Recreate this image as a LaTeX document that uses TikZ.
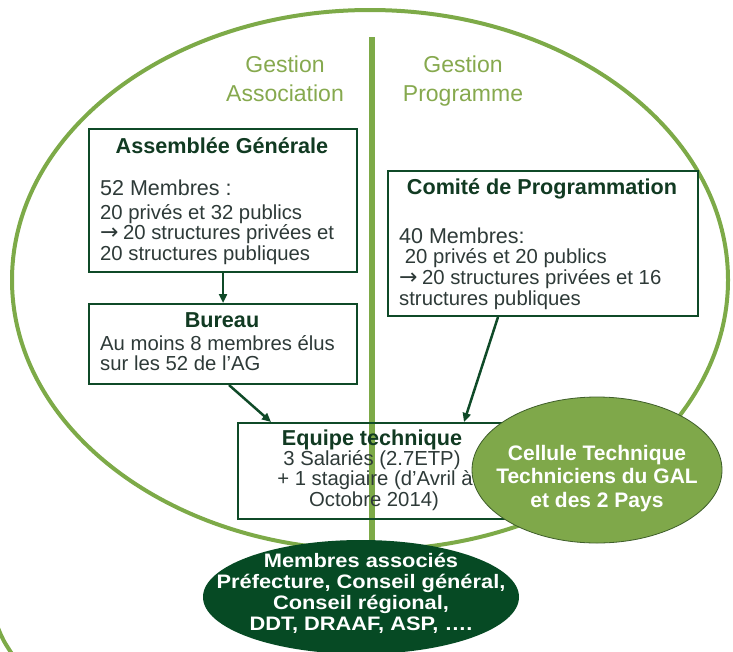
\documentclass[tikz,border=0pt]{standalone}
\usepackage{fontspec}
\setmainfont{Liberation Sans}
\newfontfamily\membfont[FakeStretch=1.12]{Liberation Sans}
\newfontfamily\arrfont{DejaVu Sans}
\newcommand{\myarrow}{{\arrfont\fontsize{22}{22}\selectfont →}}
\usetikzlibrary{arrows.meta,shapes.geometric}
\definecolor{biggreen}{HTML}{7DAA48}
\definecolor{labgreen}{HTML}{86A94E}
\definecolor{boxgreen}{HTML}{0F4A28}
\definecolor{titlecol}{HTML}{113A22}
\definecolor{bodycol}{HTML}{2E3A38}
\definecolor{celfill}{HTML}{7FA84A}
\definecolor{celdraw}{HTML}{3E5E2A}
\definecolor{membfill}{HTML}{064A24}
\tikzset{
  boxnode/.style={draw=boxgreen, line width=2pt, fill=white, inner sep=0pt, anchor=north west},
  ttl/.style={font=\fontsize{21.6}{24}\selectfont\bfseries, text=titlecol, anchor=base, inner sep=0pt},
  big/.style={font=\fontsize{21.5}{24}\selectfont, text=bodycol, anchor=base west, inner sep=0pt},
  body/.style={font=\fontsize{20.3}{22}\selectfont, text=bodycol, anchor=base west, inner sep=0pt},
  bodyc/.style={font=\fontsize{20.3}{22}\selectfont, text=bodycol, anchor=base, inner sep=0pt},
  gest/.style={font=\fontsize{23}{29}\selectfont, text=labgreen, align=center, anchor=north, inner sep=0pt},
  celtxt/.style={font=\fontsize{21}{24}\selectfont\bfseries, text=white, anchor=base, inner sep=0pt},
  memtxt/.style={font=\membfont\fontsize{19.5}{21}\selectfont\bfseries, text=white, anchor=base, inner sep=0pt},
  arr/.style={draw=boxgreen, line width=2.5pt, -{Triangle[length=9pt,width=8pt]}}
}
\begin{document}
\begin{tikzpicture}[x=1pt,y=1pt]
\useasboundingbox (0,0) rectangle (733,-651);
% big ellipse
\node[ellipse, draw=biggreen, line width=4pt, minimum width=716pt, minimum height=540pt, inner sep=0pt] (bigell) at (370,-280) {};
% small arc bottom-left
\coordinate (arcA) at (-2,-628);
\coordinate (arcB) at (12,-654);
\draw[biggreen, line width=4pt] (arcA) .. controls (3,-640) .. (arcB);
% divider
\coordinate (vtop) at (372,-37);
\coordinate (vbot) at (372,-560);
\draw[biggreen, line width=6.5pt] (vtop) -- (vbot);
% labels
\node[gest] (gA) at (285,-56) {Gestion\\Association};
\node[gest] (gP) at (463,-56) {Gestion\\Programme};
% Assemblee generale
\node[boxnode, minimum width=268pt, minimum height=143pt] (ag) at (88,-128) {};
\node[ttl] (agT) at (222,-153) {Assemblée Générale};
\node[big] (ag1) at (100,-195) {52 Membres :};
\node[body] (ag2) at (100,-219) {20 privés et 32 publics};
\node[body] (ag3) at (100,-239) {\myarrow\kern4.5pt 20 structures privées et};
\node[body] (ag4) at (100,-260) {20 structures publiques};
% Bureau
\node[boxnode, minimum width=268pt, minimum height=80pt] (bur) at (88,-303) {};
\node[ttl] (burT) at (222,-327) {Bureau};
\node[body] (bur1) at (100,-350) {Au moins 8 membres élus};
\node[body] (bur2) at (100,-370) {sur les 52 de l’AG};
% Comite
\node[boxnode, minimum width=310pt, minimum height=145pt] (com) at (387,-170) {};
\node[ttl] (comT) at (542,-194) {Comité de Programmation};
\node[big] (com1) at (399,-243) {40 Membres:};
\node[body] (com2) at (399,-263) {\ 20 privés et 20 publics};
\node[body] (com3) at (399,-284) {\myarrow\kern4.5pt 20 structures privées et 16};
\node[body] (com4) at (399,-305) {structures publiques};
% Equipe technique
\node[boxnode, fill=none, minimum width=266pt, minimum height=96pt] (eq) at (237,-422) {};
\node[ttl] (eqT) at (372,-445) {Equipe technique};
\node[bodyc] (eq1) at (372,-465) {3 Salariés (2.7ETP)};
\node[bodyc] (eq2) at (375,-485) {+ 1 stagiaire (d’Avril à};
\node[bodyc] (eq3) at (374,-506) {Octobre 2014)};
% arrows
\draw[arr] (ag.south) -- (bur.north);
\draw[arr] ([xshift=6pt]bur.south) -- ([xshift=-100pt]eq.north);
\draw[arr] ([xshift=-45pt]com.south) -- ([xshift=93pt]eq.north);
% Cellule technique
\node[ellipse, draw=celdraw, line width=0.8pt, fill=celfill, minimum width=250pt, minimum height=146pt, inner sep=0pt] (cel) at (597,-470) {};
\node[celtxt] (cel1) at (597,-460) {Cellule Technique};
\node[celtxt] (cel2) at (597,-483) {Techniciens du GAL};
\node[celtxt] (cel3) at (597,-507) {et des 2 Pays};
% Membres associes
\node[ellipse, fill=membfill, minimum width=316pt, minimum height=114pt, inner sep=0pt] (memb) at (361,-597) {};
\node[memtxt] (m1) at (361,-567) {Membres associés};
\node[memtxt] (m2) at (361,-588) {Préfecture, Conseil général,};
\node[memtxt] (m3) at (361,-609) {Conseil régional,};
\node[memtxt] (m4) at (361,-630) {DDT, DRAAF, ASP, ….};
\end{tikzpicture}
\end{document}
